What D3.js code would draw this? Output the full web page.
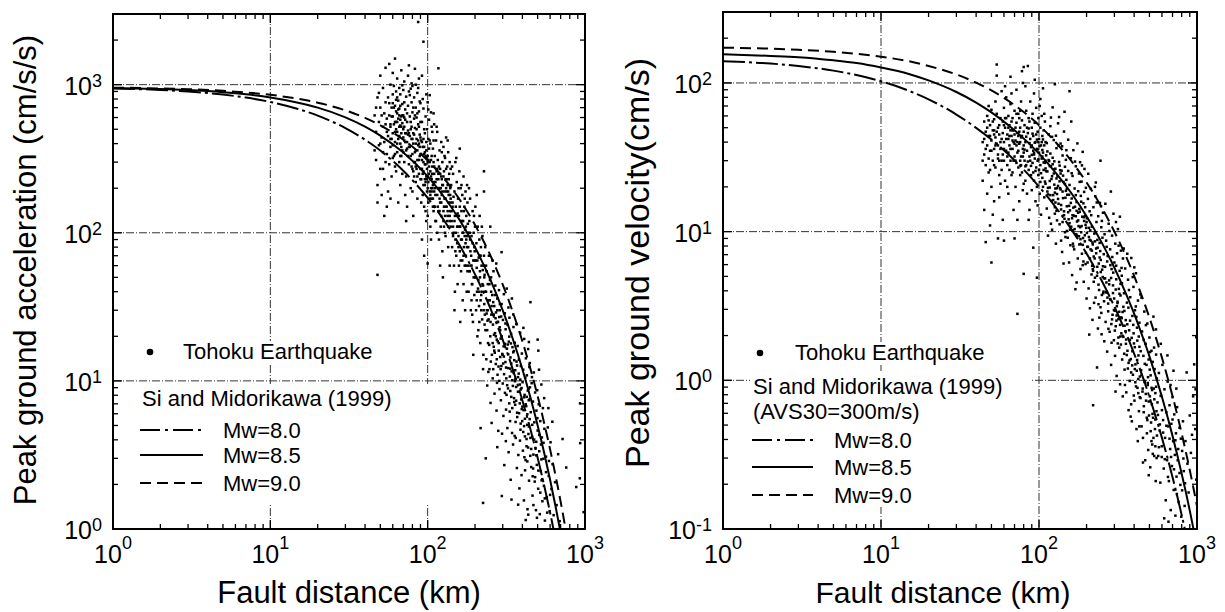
<!DOCTYPE html>
<html>
<head>
<meta charset="utf-8">
<script src="https://cdn.jsdelivr.net/npm/d3@7"></script>
<style>
body { margin: 0; background: #fff; }
svg { display: block; font-family: "Liberation Sans", Arial, sans-serif; }
</style>
</head>
<body>
<div id="chart"></div>
<script>
// distances (km) at which the Si and Midorikawa (1999) curves are tabulated
const distKm = [1,2,3,5,7,10,15,20,30,40,50,70,100,130,160,200,250,300,350,400,450,500,550,600,650,700,750,800,850,900,950,1000];

// PGA curves (cm/s/s)
const pga80 = [943,921,899,857,818,764,685,618,509,425,359,262,172,117,82,52.4,31.0,18.9,11.7,7.38,4.71,3.03,1.97,1.29,0.847,0.56];
const pga85 = [951,935,919,889,860,819,756,700,602,521,453,348,240,169,121.5,79.8,48.4,29.9,18.8,12.0,7.72,5.00,3.27,2.15,1.42,0.942,0.628];
const pga90 = [955,943,932,909,886,854,803,756,671,597,532,425,308,226,167,113,70.6,44.7,28.6,18.5,12.05,7.90,5.20,3.45,2.29,1.53,1.02,0.688];

// PGV curves (cm/s), AVS30 = 300 m/s
const pgv80 = [140,135,130,121,113,102.6,88.6,77.6,61.3,49.9,41.6,30.2,20.1,14.2,10.4,7.13,4.65,3.13,2.16,1.51,1.08,0.773,0.561,0.410,0.302,0.223,0.166,0.124,0.0928];
const pgv85 = [156,152,149,142,136,127,115,104,86.9,73.8,63.4,48.1,33.5,24.3,18.2,12.7,8.40,5.72,3.97,2.81,2.00,1.45,1.05,0.773,0.570,0.423,0.315,0.235,0.177,0.133,0.100,0.0758];
const pgv90 = [172.6,170,167,162,157,150,140,130,114,100.5,89.0,70.9,52.0,39.0,29.9,21.4,14.5,10.0,7.06,5.04,3.63,2.64,1.93,1.42,1.05,0.784,0.585,0.439,0.330,0.249,0.188,0.1426];

// Tohoku Earthquake records, [fault distance km, PGA cm/s/s]
const pgaObs = [
[46,620],[47,310],[47,480],[48,820],[48,210],[49,390],[49,560],[50,1150],[50,270],[50,700],[51,440],[51,180],[52,950],[52,350],[52,520],[53,640],[53,230],[53,410],[54,760],[54,300],[54,1300],[55,480],[55,150],[55,590],[46,360],[48,160],[49,880],[51,620],[53,130],[50,400],[52,270],[54,540],[47,700],[55,340],[48,52],
[56,820],[56,450],[57,620],[57,290],[58,1000],[58,540],[58,380],[59,700],[59,240],[60,860],[60,470],[60,610],[61,330],[61,980],[62,560],[62,720],[62,410],[63,260],[63,900],[63,500],[64,640],[64,350],[64,1100],[65,780],[65,430],[65,590],[66,300],[66,690],[66,520],[67,860],[67,400],[67,210],[68,610],[68,470],[68,1250],[69,740],[69,360],[69,550],[70,920],[70,440],[56,190],[57,750],[58,170],[59,430],[60,320],[61,540],[62,280],[63,660],[64,480],[65,160],[66,950],[67,580],[68,330],[69,250],[70,620],[57,1380],[60,1200],[64,820],[67,720],[69,990],
[71,520],[71,300],[72,680],[72,410],[73,830],[73,240],[74,560],[74,370],[75,720],[75,460],[76,290],[76,900],[77,610],[77,380],[78,500],[78,200],[79,760],[79,430],[80,340],[80,650],[80,980],[81,470],[81,260],[82,590],[82,820],[83,350],[83,510],[84,700],[84,220],[85,430],[85,600],[86,310],[86,880],[87,540],[87,390],[88,660],[88,250],[89,460],[89,770],[90,340],[90,560],[72,180],[74,150],[76,470],[78,940],[80,190],[82,300],[84,400],[86,170],[88,520],[90,230],[71,760],[73,470],[75,330],[77,850],[79,280],[81,700],[83,620],[85,270],[87,950],[89,330],[71,1050],[75,1150],[79,1020],[84,1000],[88,1100],[73,120],[81,130],[86,640],[90,750],
[87,2650],[94,1950],[117,1290],[62,1500],[76,1350],[83,1280],[92,1150],
[91,420],[91,230],[92,310],[92,560],[93,180],[93,380],[94,260],[94,690],[95,340],[95,150],[96,470],[96,290],[97,220],[97,610],[98,360],[98,120],[99,270],[99,500],[100,200],[100,330],[100,760],[101,430],[101,160],[102,250],[102,580],[103,300],[103,190],[104,400],[104,110],[105,240],[105,650],[106,330],[106,170],[107,280],[107,480],[108,210],[108,370],[109,140],[109,300],[110,250],[110,540],[91,160],[93,800],[95,500],[97,140],[99,190],[101,310],[103,420],[105,90],[107,200],[109,420],[92,90],[94,430],[96,210],[98,860],[100,130],[102,370],[104,260],[106,520],[108,150],[110,190],[95,70],[100,62],[104,180],[98,240],[101,680],[106,230],[109,640],[103,850],[97,330],
[111,330],[111,150],[112,220],[113,420],[113,120],[114,260],[115,180],[115,480],[116,310],[117,140],[117,230],[118,90],[119,360],[119,200],[120,270],[120,160],[121,110],[122,410],[122,240],[123,180],[124,300],[124,75],[125,210],[126,140],[126,380],[127,260],[128,170],[129,100],[129,320],[130,230],[130,150],[131,440],[132,190],[133,120],[133,280],[134,210],[135,80],[135,350],[136,160],[137,250],[138,130],[138,300],[139,200],[140,110],[140,270],[112,120],[114,520],[116,200],[118,280],[120,60],[122,130],[124,190],[126,240],[128,330],[130,95],[132,150],[134,420],[136,230],[138,60],[140,170],[115,100],[119,140],[123,350],[127,110],[131,270],[135,190],[139,140],[125,50],[121,200],[134,130],
[141,210],[142,120],[143,80],[144,160],[145,250],[146,100],[147,60],[148,190],[149,130],[150,90],[150,300],[151,150],[152,70],[153,220],[154,110],[155,45],[156,170],[157,95],[158,130],[159,260],[160,75],[160,150],[161,110],[162,200],[163,55],[164,140],[165,90],[166,180],[167,35],[168,120],[169,240],[170,80],[171,150],[172,60],[173,105],[174,190],[175,70],[176,130],[177,40],[178,95],[179,160],[180,115],[143,280],[146,175],[149,40],[152,320],[155,135],[158,60],[161,25],[164,210],[167,100],[170,140],[173,30],[176,90],[179,55],[145,110],[154,85],[163,120],[172,170],[178,210],[148,30],[157,200],[166,65],[175,110],[169,45],
[181,80],[182,40],[184,120],[185,55],[186,170],[188,30],[189,70],[190,95],[191,45],[193,140],[194,25],[195,65],[196,100],[198,38],[199,75],[200,50],[201,150],[203,30],[204,85],[205,58],[207,20],[208,110],[209,42],[211,68],[212,32],[214,130],[215,50],[216,18],[218,80],[219,38],[220,60],[222,26],[223,95],[225,44],[226,15],[228,70],[229,33],[230,52],[183,200],[187,60],[192,28],[197,130],[202,65],[206,40],[210,22],[213,90],[217,35],[221,110],[224,56],[227,30],[185,100],[195,15],[205,180],[215,70],[225,12],[190,35],[200,110],[210,48],[220,40],[230,24],
[231,40],[233,22],[234,3.0],[235,60],[236,14],[238,30],[239,9.3],[241,45],[242,18],[244,26],[245,70],[247,12],[248,35],[250,20],[251,7.1],[253,50],[254,28],[256,15],[257,38],[259,10.4],[260,24],[262,55],[263,17],[265,32],[266,8.2],[268,21],[269,44],[271,13],[272,29],[274,6.3],[275,19],[277,36],[278,11],[280,25],[281,4.6],[283,16],[284,41],[286,8.8],[287,23],[289,14.5],[232,80],[237,28.5],[243,11.5],[249,48],[255,5.2],[261,34],[267,15.5],[273,62],[279,18.5],[285,27],[240,25.5],[252,13.5],[264,20.5],[276,9.7],[288,33],[246,17.5],[258,65],[270,26.5],[282,12.5],[217,4.8],
[291,19.3],[292,7.4],[294,12.6],[295,33],[297,4.4],[298,15.2],[300,9.6],[301,25.8],[303,5.8],[304,17.1],[306,11.1],[307,2.7],[309,28.6],[310,8.3],[312,13.4],[313,22.3],[315,6.4],[316,10.4],[318,42],[319,16.5],[321,4.8],[322,23.9],[324,8.9],[325,12.2],[327,3.3],[328,18.4],[330,7.05],[331,26.7],[333,10.7],[334,5.35],[336,14.4],[337,2.15],[339,20.8],[340,7.8],[342,11.6],[343,36],[345,6.55],[346,16.9],[348,9.25],[349,3.72],[351,23.1],[352,11.3],[354,7.65],[355,13.8],[357,4.25],[358,18.1],[360,6.9],[296,1.67],[305,38.5],[314,3.92],[323,17.6],[332,6.2],[341,1.58],[350,28.1],[359,9.95],[293,27.2],[302,13.1],[317,8.05],[326,31.3],[335,12.1],[344,4.45],[353,15.9],[277,3.57],
[361,10.3],[363,4.12],[365,7.35],[367,13.5],[369,2.58],[371,5.7],[373,17.2],[375,8.45],[377,3.16],[379,11.2],[381,6.05],[383,1.88],[385,9.45],[387,21.1],[389,4.68],[391,12.6],[393,7.5],[395,2.31],[397,15.3],[399,5.35],[401,9.8],[403,3.38],[405,11.9],[407,6.35],[409,1.56],[411,19.2],[413,8.05],[415,4.22],[417,10.5],[419,2.92],[421,14.2],[423,6.75],[425,3.62],[427,10.9],[429,5.05],[431,1.36],[433,8.6],[435,16.4],[437,4.38],[439,7.4],[441,2.12],[443,12.4],[445,5.52],[447,9.05],[449,3.12],[366,24.2],[376,1.46],[386,3.95],[396,6.45],[406,22.8],[416,2.49],[426,7.8],[436,1.25],[446,13.2],[370,12.7],[390,8.75],[410,4.95],[430,2.86],[440,18.3],[420,1.15],
[452,6.15],[455,2.62],[458,9.65],[461,4.18],[464,1.68],[467,7.25],[470,3.18],[473,11.4],[476,5.25],[479,2.09],[482,8.35],[485,3.52],[488,1.34],[491,6.3],[494,2.71],[497,8.65],[500,4.62],[504,1.87],[508,6.95],[512,3.35],[516,1.26],[520,5.35],[524,2.46],[528,9.45],[532,4.15],[536,1.54],[540,6.55],[544,2.98],[548,1.96],[552,4.75],[556,1.14],[460,10.6],[470,1.45],[490,3.88],[510,11.9],[530,2.13],[550,7.65],[465,2.27],[495,1.19],[525,3.72],
[565,3.08],[572,1.64],[580,4.85],[588,2.28],[596,1.32],[604,3.85],[612,1.86],[622,2.74],[632,1.24],[645,2.07],[660,1.45],[675,3.2],[690,1.13],[585,6.55],[620,5.3],
[930,7.05],[932,3.8],[927,2.2],[880,1.92],[980,1.3],[760,2.6],[720,4.05],
[225,1.5],[228,260],[228,190],[295,74],[450,34],[500,19],[505,16],[160,370],[250,110],
[58,520],[59,610],[60,390],[61,700],[62,480],[63,560],[64,400],[65,680],[66,450],[67,530],[68,380],[69,620],[70,500],[71,420],[72,580],[73,360],[74,640],[75,490],[60,750],[62,340],[64,560],[66,620],[68,520],[70,350],[72,470],[74,410],[58,430],[63,790],[67,330],[71,600],
[76,380],[77,450],[78,330],[79,520],[80,270],[81,400],[82,460],[83,300],[84,360],[85,500],[86,240],[87,420],[88,310],[89,380],[90,270],[91,340],[92,410],[93,250],[94,300],[95,380],[96,230],[97,290],[98,410],[99,230],[100,300],[78,560],[82,240],[86,360],[90,440],[94,210],[98,320],[80,430],[84,280],[88,400],[92,270],[96,350],[100,240],
[101,220],[102,280],[103,170],[104,230],[105,310],[106,190],[107,250],[108,170],[109,220],[110,280],[112,180],[114,230],[116,150],[118,200],[120,250],[122,160],[124,210],[126,120],[128,190],[130,170],[132,230],[134,140],[136,180],[138,120],[140,160],[111,200],[115,270],[119,170],[123,230],[127,150],[131,200],[135,110],[139,180],[105,200],[117,250],[129,130],
[142,140],[145,95],[148,120],[151,100],[154,130],[157,80],[160,110],[163,90],[166,120],[169,70],[172,95],[175,60],[178,80],[181,100],[184,55],[187,75],[190,60],[193,85],[196,50],[199,65],[144,150],[150,75],[156,110],[162,65],[168,100],[174,85],[180,60],[186,90],[192,45],[198,80],
[203,50],[207,65],[211,40],[215,55],[219,30],[223,45],[227,60],[231,28],[235,40],[239,22],[243,35],[247,45],[251,25],[255,32],[259,18],[263,28],[267,38],[271,20],[275,14],[279,25],[283,18],[287,30],[291,12],[295,20],[299,15],[205,35],[217,70],[229,50],[241,30],[253,40],[265,16],[277,30],[289,22],[213,25],[237,55],[261,12],[285,10],
[305,14.6],[310,17.8],[315,12.3],[320,9.35],[325,15.1],[330,19.9],[335,8.55],[340,13.1],[345,10.1],[350,15.6],[355,7.2],[360,11.8],[365,9.1],[370,6.1],[375,10.6],[380,13.9],[385,7.05],[390,5.15],[395,8.95],[400,6.7],[405,4.52],[410,7.75],[415,5.55],[420,6.95],[425,4.05],[430,5.95],[435,3.55],[440,4.92],[445,7.55],[450,4.12],[312,24.4],[338,17.9],[362,5.28],[388,10.2],[412,3.05],[438,8.85],
[455,3.47],[462,5.05],[468,2.56],[475,4.02],[482,2.24],[490,3.14],[498,5.6],[505,2.48],[512,4.32],[520,1.76],[528,2.95],[535,2.17],[545,3.82],[555,1.61],[565,2.42],[575,1.29],[590,2.88],[600,1.7]
];

// Tohoku Earthquake records, [fault distance km, PGV cm/s]
const pgvObs = [
[44,40],[44,22],[45,55],[45,33],[45,14],[46,47],[46,28],[47,60],[47,38],[47,18],[48,44],[48,25],[49,52],[49,35],[49,11],[50,41],[50,66],[50,20],[51,30],[51,48],[52,57],[52,36],[52,16],[53,43],[53,27],[54,62],[54,39],[54,112],[55,50],[55,31],[55,9],[56,45],[56,24],[57,58],[57,36],[46,8.5],[48,70],[51,13],[53,75],[56,17],[44,30],[49,26],[52,45],[55,38],[57,21],[54,133],
[58,42],[58,26],[59,55],[59,33],[60,68],[60,40],[61,22],[61,50],[62,35],[62,80],[63,45],[63,28],[64,60],[64,18],[65,38],[65,52],[66,30],[66,72],[67,44],[67,24],[68,58],[68,36],[69,14],[69,48],[70,32],[70,65],[71,41],[71,20],[72,54],[72,90],[73,34],[73,46],[74,27],[74,62],[75,39],[75,16],[76,50],[76,30],[77,75],[77,43],[78,25],[78,56],[79,36],[79,100],[80,47],[80,21],[59,12],[61,95],[63,20],[65,26],[67,85],[69,40],[71,30],[73,12],[75,58],[77,32],[79,19],[60,30],[62,58],[64,42],[66,48],[68,25],[70,45],[72,38],[74,44],[76,65],[78,120],[80,34],[58,88],[66,110],
[81,30],[81,52],[82,22],[82,40],[83,65],[83,28],[84,35],[84,18],[85,46],[85,130],[86,26],[86,58],[87,32],[87,14],[88,42],[88,75],[89,24],[89,37],[90,50],[90,19],[91,29],[91,62],[92,35],[92,44],[93,22],[93,85],[94,31],[94,54],[95,16],[95,40],[96,27],[96,68],[97,36],[97,20],[98,47],[98,30],[99,58],[99,24],[100,34],[100,42],[101,18],[101,70],[102,28],[102,50],[103,38],[103,13],[104,31],[104,60],[105,23],[105,44],[106,34],[106,92],[107,26],[107,48],[108,17],[108,38],[109,55],[109,29],[110,21],[110,40],[82,95],[84,50],[86,12],[88,30],[90,38],[92,25],[94,105],[96,45],[98,15],[100,26],[102,78],[104,40],[106,20],[108,62],[110,30],[87,55],[93,33],[99,40],[105,32],[80,128],
[111,25.5],[112,14.3],[113,34.6],[114,19.7],[115,45.2],[116,12.4],[117,27.6],[118,17.6],[119,58.5],[120,22.6],[121,10.3],[122,31.4],[123,16.3],[124,41.3],[125,20.7],[126,98],[126,13.2],[127,26.5],[128,8.3],[129,36.4],[130,17.9],[131,23.6],[132,53.5],[133,15.4],[134,29.4],[135,11.2],[136,19.6],[137,39.1],[138,14.1],[139,25.7],[140,7.3],[141,32.5],[142,16.8],[143,21.6],[144,47.1],[145,12.2],[146,27.3],[147,9.2],[148,18.8],[149,35.3],[150,14.8],[112,39.4],[114,9.4],[116,29.8],[118,51.2],[120,16.1],[122,68.5],[124,24.6],[126,18.3],[128,44.2],[130,11.9],[132,20.3],[134,59],[136,25.9],[138,8.7],[140,37.5],[142,23.8],[144,13.7],[146,20.9],[148,30.4],[150,10.1],[113,18.6],[117,21.9],[121,43.4],[125,29.7],[129,13.8],[133,37.8],[137,19.2],[141,11.6],[145,64],[149,22.3],[119,11.3],[127,15.7],[135,27.8],[143,6.1],
[151,17.7],[152,9.1],[153,25.6],[154,12.1],[155,6.2],[156,88],[156,20.6],[157,13.9],[158,8.1],[159,31.2],[160,10.8],[161,16.7],[162,5.1],[163,23.7],[164,10.2],[165,35.3],[166,12.8],[167,7.6],[168,19.5],[169,14.7],[170,4.1],[171,27.5],[172,9.6],[173,15.8],[174,11.7],[175,39.2],[176,6.6],[177,18.7],[178,10.9],[179,24.6],[180,8.2],[181,13.6],[182,29.3],[183,5.6],[184,17.4],[185,9.9],[186,21.7],[187,7.1],[188,12.6],[189,34.4],[190,9.05],[191,15.5],[192,4.6],[193,11.8],[194,26.4],[195,8.6],[196,14.6],[197,6.05],[198,19.7],[199,10.6],[200,3.55],[153,41.5],[157,10.3],[161,24.7],[165,7.95],[169,29.6],[173,4.55],[177,13.4],[181,21.6],[185,15.9],[189,5.95],[193,18.5],[197,11.1],[155,14.9],[163,12.9],[171,17.6],[179,9.3],[187,27.9],[195,12.7],[160,55],
[201,12.3],[203,6.2],[204,16.6],[206,4.15],[207,9.2],[209,13.7],[210,3.05],[212,7.6],[213,19.4],[215,5.15],[216,10.8],[218,2.55],[219,8.2],[221,14.6],[222,4.6],[224,9.7],[225,6.6],[227,17.3],[228,3.6],[230,7.15],[231,11.6],[233,1.22],[233,5.05],[234,8.8],[236,2.23],[237,12.7],[239,6.1],[240,4.05],[242,8.4],[243,15.6],[245,3.1],[246,6.45],[248,10.7],[249,2.04],[251,5.55],[252,9.1],[254,13.4],[255,3.85],[257,7.05],[258,4.85],[260,9.6],[205,24.5],[211,10.2],[217,5.9],[223,3.32],[229,21.4],[235,7.8],[241,2.64],[247,14.8],[253,4.95],[259,1.83],[202,7.9],[208,2.03],[214,12.9],[220,5.45],[226,8.6],[232,15.7],[238,3.25],[244,7.4],[250,11.8],[256,3.95],[220,0.68],[245,30],[226,20],
[262,5.8],[264,2.47],[266,8.7],[268,3.9],[270,1.56],[272,6.85],[274,3.28],[276,11.3],[278,4.7],[280,2.12],[282,7.6],[284,3.48],[286,1.27],[288,5.6],[290,9.4],[292,2.76],[294,4.35],[296,13.2],[298,1.86],[300,6.2],[302,2.94],[304,8.3],[306,2.31],[308,4.78],[310,1.07],[312,7.15],[314,3.38],[316,10.4],[318,2.58],[320,4.12],[322,1.66],[324,5.45],[326,0.94],[328,3.72],[330,7.45],[332,2.07],[334,5.05],[336,1.38],[338,2.88],[340,6.6],[263,15.4],[271,3.6],[279,10.1],[287,2.39],[295,5.3],[303,1.46],[311,3.15],[319,8.05],[327,1.97],[335,4.5],[267,4.55],[275,2.22],[283,5.95],[291,6.75],[299,3.55],[307,11.6],[315,1.77],[323,3.82],[331,2.65],[339,0.78],[285,18.6],[305,0.84],[325,12.6],[309,2.52],[333,5.7],
[342,1.96],[345,3.85],[348,1.18],[351,5.65],[354,2.54],[357,0.83],[360,3.33],[363,1.58],[366,4.75],[369,0.63],[372,2.17],[375,0.99],[378,3.62],[381,1.39],[384,6.65],[387,0.53],[390,2.71],[393,1.09],[396,4.25],[399,1.77],[402,0.73],[405,2.96],[408,1.28],[411,5.25],[414,0.47],[417,2.26],[420,0.89],[423,3.44],[426,1.47],[429,0.62],[432,2.44],[435,1.06],[438,3.78],[344,7.7],[350,0.93],[356,1.88],[362,7.1],[368,3.08],[374,1.36],[380,0.57],[386,1.93],[392,4.95],[398,0.79],[404,1.67],[410,3.14],[416,1.16],[422,0.39],[428,1.97],[434,0.77],[440,1.57],[347,2.93],[359,1.48],[371,4.05],[383,0.69],[395,2.36],[407,0.97],[419,1.85],[431,0.49],[353,2.14],[365,1.2],[377,2.52],[389,1.26],[401,5.75],[413,2.67],[425,0.82],
[443,1.17],[446,0.49],[449,2.13],[452,0.84],[455,0.41],[458,1.46],[461,0.67],[464,2.9],[467,0.97],[470,0.29],[473,1.76],[476,0.73],[479,1.27],[482,0.44],[485,2.41],[488,0.93],[491,0.34],[494,1.38],[497,0.58],[500,1.94],[503,0.78],[506,0.26],[509,1.08],[512,0.52],[515,1.58],[518,0.69],[521,0.37],[524,1.33],[527,0.56],[530,2.68],[533,0.88],[536,0.31],[539,1.19],[542,0.47],[545,0.82],[548,0.21],[551,1.49],[554,0.62],[557,1.03],[445,3.6],[455,0.28],[465,0.99],[475,2.35],[485,0.54],[495,0.23],[505,1.55],[515,0.39],[525,0.32],[535,1.66],[545,0.36],[555,0.3],[460,1.87],[490,1.05],[520,0.86],[550,2.2],
[562,0.71],[568,0.31],[574,1.12],[580,0.46],[586,0.205],[592,0.79],[598,0.36],[604,1.27],[610,0.54],[616,0.255],[622,0.87],[628,0.41],[634,0.156],[640,0.61],[646,0.29],[652,0.98],[658,0.49],[664,0.21],[670,0.68],[676,0.345],[682,0.134],[688,0.51],[694,0.265],[700,0.77],[706,0.39],[712,0.183],[718,0.59],[724,0.315],[730,0.123],[736,0.44],[742,0.225],[748,0.66],[590,1.76],[620,0.118],[650,1.47],[680,0.93],[710,1.16],[740,0.88],[600,0.63],[660,0.112],
[755,0.29],[765,0.152],[775,0.48],[785,0.198],[795,0.121],[805,0.335],[815,0.53],[825,0.245],[835,0.143],[845,0.39],[860,1.13],[870,0.275],[885,0.176],[900,0.58],[915,0.325],[930,0.43],[945,0.78],[960,1.28],[975,0.47],[990,0.215],[990,1.95],[980,0.87],
[73,2.8],[50,6.2],[60,8.7],[80,5.2],[92,7.8],[97,4.9],[70,9],
[45,42],[46,36],[47,50],[48,31],[49,44],[50,35],[51,55],[52,28],[53,38],[54,47],[55,33],[56,52],[57,40],[58,30],[59,46],[60,36],[61,58],[62,42],[63,32],[64,50],[65,44],[66,36],[67,55],[68,41],[69,30],[70,39],[71,50],[72,29],[73,40],[74,35],[75,47],[76,40],[77,28],[78,44],[79,32],[80,38],[48,56],[52,48],[56,30],[60,52],[64,34],[68,48],[72,62],[76,24],
[81,35.6],[83,43.5],[85,29.6],[87,39.4],[89,27.7],[91,45.6],[93,33.7],[95,25.6],[97,41.6],[99,30.6],[101,37.6],[103,24.7],[105,35.4],[107,29.2],[109,21.7],[111,32.6],[113,25.4],[115,30.3],[117,19.8],[119,27.5],[121,23.6],[123,17.6],[125,26.3],[127,19.5],[129,22.8],[82,27.5],[86,49.4],[90,32.8],[94,39.6],[98,35.7],[102,21.6],[106,41.7],[110,26.6],[114,17.8],[118,33.5],[122,28.4],[126,14.6],[130,19.6],
[132,16.6],[135,21.8],[138,15.1],[141,18.6],[144,12.9],[147,16.9],[150,19.4],[153,13.5],[156,11.4],[159,15.6],[162,12.3],[165,14.5],[168,10.4],[171,12.7],[174,9.4],[177,11.9],[180,14.2],[183,8.9],[186,10.9],[189,8.15],[192,12.5],[195,9.45],[198,7.2],[201,9.8],[204,7.9],[207,10.6],[210,6.6],[213,8.7],[216,7.45],[219,5.6],[137,24.6],[146,9.9],[155,17.7],[164,8.3],[173,13.8],[182,10.7],[191,6.3],[200,11.6],[209,8.8],[218,8.45],
[222,6.8],[226,4.9],[230,7.7],[234,5.8],[238,4.4],[242,6.7],[246,5.35],[250,3.75],[254,5.85],[258,3.4],[262,4.85],[266,3.92],[270,6.3],[274,2.91],[278,4.42],[282,3.52],[286,4.88],[290,2.57],[294,3.86],[298,2.97],[302,2.16],[306,4.08],[310,2.73],[314,3.31],[318,1.94],[322,2.89],[326,2.36],[330,1.74],[334,2.62],[338,1.99],[342,3.12],[346,1.51],[228,9.9],[248,2.84],[268,7.9],[288,1.79],[308,5.9],[328,4.45],[348,2.33],
[355,1.76],[362,2.38],[369,1.31],[376,1.87],[383,1.13],[390,1.57],[397,2.07],[404,1.19],[411,0.91],[418,1.37],[425,1.02],[432,1.68],[439,0.76],[446,1.09],[453,0.88],[460,0.61],[467,1.29],[474,0.81],[481,0.56],[488,0.96],[495,0.72],[502,1.18],[509,0.455],[516,0.89],[523,0.595],[530,0.41],[537,0.745],[544,0.545],[551,0.905],[558,0.425],[566,0.585],[574,0.355],[582,0.505],[590,0.785],[598,0.305],
[610,0.445],[625,0.295],[640,0.495],[655,0.224],[670,0.405],[685,0.305],[700,0.545],[715,0.252],[730,0.395],[745,0.172],[760,0.345],[775,0.238],[790,0.405],[805,0.182],[820,0.298],[840,0.203]
];

const mwLabels = ['Mw=8.0', 'Mw=8.5', 'Mw=9.0'];
const curveDash = ['22,4,3,4', null, '11,6'];
const legendDash = ['20,5,3,5', null, '11,6'];

const panels = [
	{
		left: 113, right: 585, top: 14, bottom: 529,
		yDomain: [1, 3000],
		obs: pgaObs,
		curves: [pga80, pga85, pga90],
		yTitle: 'Peak ground acceleration (cm/s/s)', yTitleX: 36, yTitleY: 270, yTitleSize: 31,
		xTitleX: 349, xTitleSize: 31,
		legend: {
			dot: [150, 352], obsText: [183, 359],
			titles: [['Si and Midorikawa (1999)', 142, 406]],
			rowY: [438, 463, 491], lineX: [140, 203], textX: 223,
			boxes: [[140, 341, 240, 23], [136, 384, 320, 119]]
		}
	},
	{
		left: 723, right: 1197, top: 12, bottom: 529,
		yDomain: [0.1, 300],
		obs: pgvObs,
		curves: [pgv80, pgv85, pgv90],
		yTitle: 'Peak ground velocity(cm/s)', yTitleX: 649, yTitleY: 263, yTitleSize: 34,
		xTitleX: 943, xTitleSize: 30,
		legend: {
			dot: [760, 353], obsText: [795, 360],
			titles: [['Si and Midorikawa (1999)', 753, 394], ['(AVS30=300m/s)', 753, 419]],
			rowY: [448, 475, 503], lineX: [752, 813], textX: 834,
			boxes: [[750, 342, 250, 23], [750, 372, 282, 135]]
		}
	}
];

var svg = d3.select('#chart')
	.append('svg')
	.attr('width', 1225)
	.attr('height', 612);

const isMajor = (t) => Math.abs(Math.log10(t) - Math.round(Math.log10(t))) < 1e-6;

function drawPanel(p, idx) {
	const x = d3.scaleLog().domain([1, 1000]).range([p.left, p.right]);
	const y = d3.scaleLog().domain(p.yDomain).range([p.bottom, p.top]);
	const g = svg.append('g');
	const clipId = 'clip' + idx;

	svg.append('clipPath').attr('id', clipId)
		.append('rect')
		.attr('x', p.left).attr('y', p.top)
		.attr('width', p.right - p.left).attr('height', p.bottom - p.top);

	const xTicks = x.ticks();
	const yTicks = y.ticks();
	const inside = (t, dom) => t > dom[0] * 1.001 && t < dom[1] * 0.999;

	// grid lines
	const grid = g.append('g')
		.attr('stroke', '#333')
		.attr('stroke-width', 1)
		.attr('stroke-dasharray', '8,2,1,2');
	grid.selectAll('.gx')
		.data(xTicks.filter((t) => isMajor(t) && inside(t, [1, 1000])))
		.enter().append('line')
		.attr('x1', (d) => x(d)).attr('x2', (d) => x(d))
		.attr('y1', p.top).attr('y2', p.bottom);
	grid.selectAll('.gy')
		.data(yTicks.filter((t) => isMajor(t) && inside(t, p.yDomain)))
		.enter().append('line')
		.attr('x1', p.left).attr('x2', p.right)
		.attr('y1', (d) => y(d)).attr('y2', (d) => y(d));

	// observed records
	g.append('g')
		.attr('clip-path', `url(#${clipId})`)
		.selectAll('rect')
		.data(p.obs)
		.enter().append('rect')
		.attr('x', (d) => x(d[0]) - 1.25)
		.attr('y', (d) => y(d[1]) - 1.25)
		.attr('width', 2.5).attr('height', 2.5)
		.attr('fill', '#000');

	// attenuation curves
	const line = d3.line()
		.x((d) => x(d[0]))
		.y((d) => y(d[1]))
		.curve(d3.curveMonotoneX);
	p.curves.forEach((vals, i) => {
		const pts = vals.map((v, j) => [distKm[j], v]);
		g.append('path')
			.attr('clip-path', `url(#${clipId})`)
			.attr('d', line(pts))
			.attr('fill', 'none')
			.attr('stroke', '#000')
			.attr('stroke-width', 2)
			.attr('stroke-dasharray', curveDash[i]);
	});

	// legend
	const lg = p.legend;
	g.selectAll('.lbox')
		.data(lg.boxes)
		.enter().append('rect')
		.attr('x', (d) => d[0]).attr('y', (d) => d[1])
		.attr('width', (d) => d[2]).attr('height', (d) => d[3])
		.attr('fill', '#fff');
	g.append('circle')
		.attr('cx', lg.dot[0]).attr('cy', lg.dot[1]).attr('r', 3.3)
		.attr('fill', '#000');
	g.append('text')
		.attr('x', lg.obsText[0]).attr('y', lg.obsText[1])
		.attr('font-size', 22)
		.text('Tohoku Earthquake');
	lg.titles.forEach((t) => {
		g.append('text')
			.attr('x', t[1]).attr('y', t[2])
			.attr('font-size', 22)
			.text(t[0]);
	});
	mwLabels.forEach((lab, i) => {
		g.append('line')
			.attr('x1', lg.lineX[0]).attr('x2', lg.lineX[1])
			.attr('y1', lg.rowY[i] - 8).attr('y2', lg.rowY[i] - 8)
			.attr('stroke', '#000')
			.attr('stroke-width', 2)
			.attr('stroke-dasharray', legendDash[i]);
		g.append('text')
			.attr('x', lg.textX).attr('y', lg.rowY[i])
			.attr('font-size', 22)
			.text(lab);
	});

	// frame
	g.append('rect')
		.attr('x', p.left).attr('y', p.top)
		.attr('width', p.right - p.left).attr('height', p.bottom - p.top)
		.attr('fill', 'none')
		.attr('stroke', '#000')
		.attr('stroke-width', 2);

	// ticks on all four sides, pointing inward
	const tk = g.append('g').attr('stroke', '#000').attr('stroke-width', 1.3);
	const tlen = (t) => isMajor(t) ? 9 : 5;
	xTicks.forEach((t) => {
		tk.append('line').attr('x1', x(t)).attr('x2', x(t))
			.attr('y1', p.bottom).attr('y2', p.bottom - tlen(t));
		tk.append('line').attr('x1', x(t)).attr('x2', x(t))
			.attr('y1', p.top).attr('y2', p.top + tlen(t));
	});
	yTicks.forEach((t) => {
		tk.append('line').attr('y1', y(t)).attr('y2', y(t))
			.attr('x1', p.left).attr('x2', p.left + tlen(t));
		tk.append('line').attr('y1', y(t)).attr('y2', y(t))
			.attr('x1', p.right).attr('x2', p.right - tlen(t));
	});

	// tick labels 10^n
	g.selectAll('.xl')
		.data(xTicks.filter(isMajor))
		.enter().append('text')
		.attr('x', (d) => x(d)).attr('y', p.bottom + 34)
		.attr('text-anchor', 'middle')
		.attr('font-size', 25)
		.each(function (d) {
			const s = d3.select(this);
			s.append('tspan').text('10');
			s.append('tspan').attr('dy', -14).attr('font-size', 18)
				.text(Math.round(Math.log10(d)));
		});
	g.selectAll('.yl')
		.data(yTicks.filter(isMajor))
		.enter().append('text')
		.attr('x', p.left - 11).attr('y', (d) => y(d) + 10)
		.attr('text-anchor', 'end')
		.attr('font-size', 25)
		.each(function (d) {
			const s = d3.select(this);
			s.append('tspan').text('10');
			s.append('tspan').attr('dy', -8).attr('font-size', 18)
				.text(Math.round(Math.log10(d)));
		});

	// axis titles
	g.append('text')
		.attr('x', p.xTitleX).attr('y', 603)
		.attr('text-anchor', 'middle')
		.attr('font-size', p.xTitleSize)
		.text('Fault distance (km)');
	g.append('text')
		.attr('transform', `translate(${p.yTitleX},${p.yTitleY}) rotate(-90)`)
		.attr('text-anchor', 'middle')
		.attr('font-size', p.yTitleSize)
		.text(p.yTitle);
}

panels.forEach(drawPanel);
</script>
</body>
</html>
